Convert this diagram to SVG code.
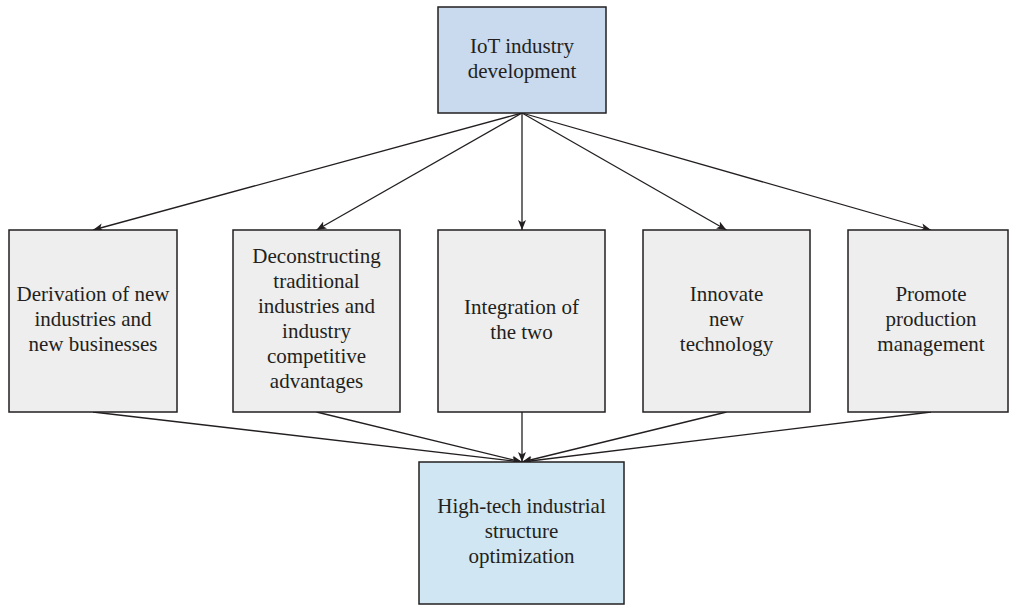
<svg xmlns="http://www.w3.org/2000/svg" width="1009" height="605" viewBox="0 0 1009 605">
<style>
.box{stroke:#231f20;stroke-width:1.5}
.mid{fill:#eeeeee}
.top{fill:#c9d9ee}
.bot{fill:#d0e6f3}
.t{font-family:"Liberation Serif","Times New Roman",serif;font-size:21px;fill:#231f20;text-anchor:middle}
.c{stroke:#231f20;stroke-width:1.3;fill:none;marker-end:url(#ah)}
</style>
<defs>
<marker id="ah" viewBox="0 0 10 10" refX="10" refY="5" markerWidth="10" markerHeight="10" markerUnits="userSpaceOnUse" orient="auto">
<path d="M0,1 L10,5 L0,9 L2.5,5 Z" fill="#231f20"/>
</marker>
</defs>
<rect width="1009" height="605" fill="#ffffff"/>
<g id="connectors">
<line class="c" x1="522" y1="113" x2="93" y2="230"/>
<line class="c" x1="522" y1="113" x2="316.5" y2="230"/>
<line class="c" x1="522" y1="113" x2="522" y2="230"/>
<line class="c" x1="522" y1="113" x2="726.5" y2="230"/>
<line class="c" x1="522" y1="113" x2="931" y2="230"/>
<line class="c" x1="93" y1="412" x2="522" y2="462"/>
<line class="c" x1="316.5" y1="412" x2="522" y2="462"/>
<line class="c" x1="522" y1="412" x2="522" y2="462"/>
<line class="c" x1="726.5" y1="412" x2="522" y2="462"/>
<line class="c" x1="931" y1="412" x2="522" y2="462"/>
</g>
<g id="n-iot">
<rect class="box top" x="438" y="7" width="168" height="106"/>
<text class="t" x="522" y="53">IoT industry</text>
<text class="t" x="522" y="78">development</text>
</g>
<g id="n-derivation">
<rect class="box mid" x="9" y="230" width="168" height="182"/>
<text class="t" x="93" y="301">Derivation of new</text>
<text class="t" x="93" y="326">industries and</text>
<text class="t" x="93" y="351">new businesses</text>
</g>
<g id="n-deconstructing">
<rect class="box mid" x="233" y="230" width="167" height="182"/>
<text class="t" x="316.5" y="263">Deconstructing</text>
<text class="t" x="316.5" y="288">traditional</text>
<text class="t" x="316.5" y="313">industries and</text>
<text class="t" x="316.5" y="338">industry</text>
<text class="t" x="316.5" y="363">competitive</text>
<text class="t" x="316.5" y="388">advantages</text>
</g>
<g id="n-integration">
<rect class="box mid" x="438" y="230" width="167" height="182"/>
<text class="t" x="521.5" y="313.5">Integration of</text>
<text class="t" x="521.5" y="338.5">the two</text>
</g>
<g id="n-innovate">
<rect class="box mid" x="643" y="230" width="167" height="182"/>
<text class="t" x="726.5" y="301">Innovate</text>
<text class="t" x="726.5" y="326">new</text>
<text class="t" x="726.5" y="351">technology</text>
</g>
<g id="n-promote">
<rect class="box mid" x="848" y="230" width="160" height="182"/>
<text class="t" x="931" y="301">Promote</text>
<text class="t" x="931" y="326">production</text>
<text class="t" x="931" y="351">management</text>
</g>
<g id="n-hightech">
<rect class="box bot" x="419" y="462" width="205" height="142"/>
<text class="t" x="521.5" y="513">High-tech industrial</text>
<text class="t" x="521.5" y="538">structure</text>
<text class="t" x="521.5" y="563">optimization</text>
</g>
</svg>
